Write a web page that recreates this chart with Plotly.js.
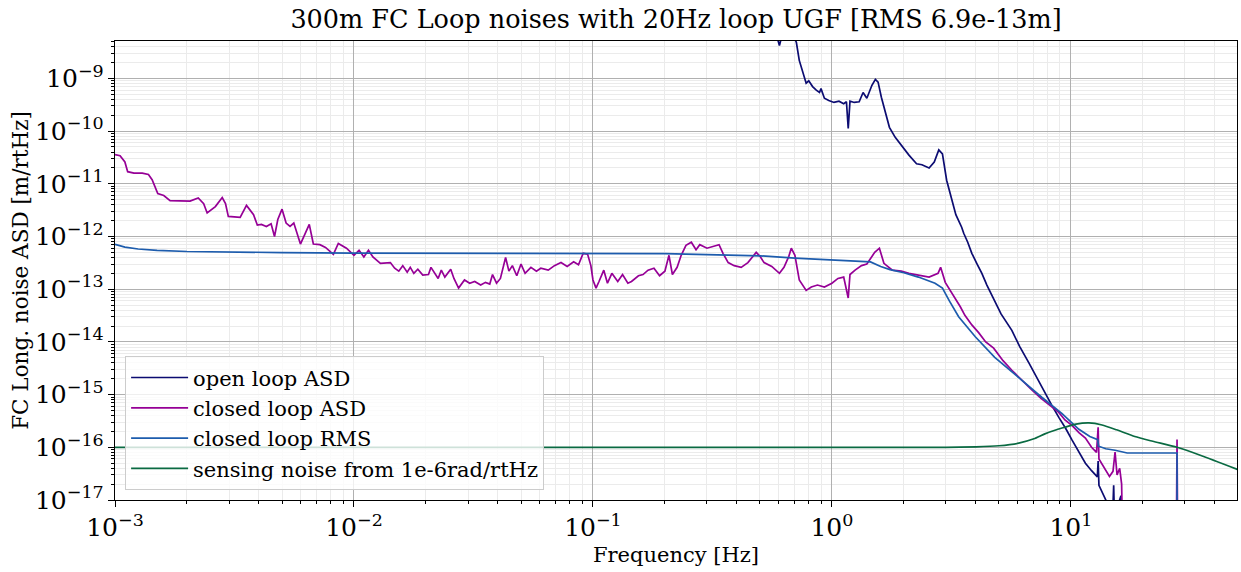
<!DOCTYPE html>
<html>
<head>
<meta charset="utf-8">
<script src="https://cdn.plot.ly/plotly-3.0.1.min.js"></script>
<style>html,body{margin:0;padding:0;background:#fff;}#chart{width:1241px;height:572px;}</style>
</head>
<body>
<div id="chart"></div>
<script>
// ---- data ----
const titleText = "300m FC Loop noises with 20Hz loop UGF [RMS 6.9e-13m]";
const seriesNames = ["open loop ASD", "closed loop ASD", "closed loop RMS", "sensing noise from 1e-6rad/rtHz"];

const openFreq = [0.5,0.59,0.603,0.615,0.68,0.71,0.73,0.76,0.78,0.8,0.83,0.86,0.887,0.9,0.93,0.97,1.02,1.07,1.12,1.15,1.17,1.19,1.24,1.3,1.35,1.4,1.47,1.52,1.56,1.61,1.68,1.74,1.84,1.95,2.1,2.26,2.38,2.55,2.68,2.8,2.9,3.02,3.17,3.3,3.49,3.56,3.7,3.85,4.05,4.24,4.45,4.75,5.1,5.66,6.1,6.67,7.2,7.78,8.3,8.9,9.5,10.1,10.8,11.5,12.2,12.9,13.0,13.1,14.0,14.5,15.0,15.1,15.2,16.2,16.4];
const openASD  = [1.2e-8,6e-9,4.2e-9,6e-9,8e-9,4.8e-9,2.2e-9,1.25e-9,8.1e-10,9e-10,7e-10,6e-10,5.4e-10,6.4e-10,4.2e-10,3.8e-10,3.5e-10,3.7e-10,3.3e-10,3.6e-10,1.12e-10,3.7e-10,3.5e-10,3.6e-10,5.4e-10,4.2e-10,7.4e-10,9.6e-10,8.5e-10,4.4e-10,2.2e-10,1.18e-10,7.6e-11,5.4e-11,3.5e-11,2.4e-11,2.3e-11,2.0e-11,2.6e-11,4.4e-11,3.7e-11,1.17e-11,4.9e-12,2.6e-12,1.5e-12,1.15e-12,7.8e-13,4.8e-13,3.0e-13,2.0e-13,1.2e-13,6.5e-14,3.4e-14,1.66e-14,8.2e-15,4.0e-15,2.1e-15,1.07e-15,6.4e-16,3.7e-16,2.3e-16,1.38e-16,8.4e-17,5.0e-17,3.6e-17,2.75e-17,5.5e-17,1.9e-17,1.0e-17,5e-18,8e-18,1.9e-17,5e-18,1.2e-17,1e-18];

const closedFreq = [0.001,0.00105,0.0011,0.00113,0.0012,0.0013,0.00138,0.00143,0.00151,0.0016,0.0017,0.0019,0.00206,0.00223,0.00235,0.00243,0.00263,0.00281,0.0029,0.00298,0.0032,0.00334,0.00355,0.0038,0.00394,0.0041,0.0043,0.0045,0.00465,0.0048,0.005,0.0052,0.0054,0.0056,0.00597,0.0063,0.0065,0.00676,0.0072,0.0076,0.0082,0.0086,0.0093,0.01,0.0105,0.011,0.0115,0.012,0.0129,0.0142,0.0148,0.0154,0.016,0.0167,0.0172,0.0178,0.0185,0.0194,0.0205,0.021,0.0225,0.0232,0.024,0.0254,0.0262,0.0274,0.029,0.0305,0.032,0.0339,0.0355,0.037,0.038,0.0395,0.041,0.0431,0.0445,0.046,0.048,0.05,0.052,0.055,0.058,0.0605,0.065,0.069,0.0735,0.078,0.083,0.087,0.091,0.095,0.098,0.1,0.103,0.106,0.111,0.115,0.12,0.127,0.133,0.14,0.145,0.155,0.162,0.17,0.18,0.19,0.2,0.208,0.215,0.225,0.234,0.245,0.258,0.27,0.28,0.3,0.32,0.337,0.35,0.368,0.39,0.417,0.445,0.482,0.5,0.52,0.56,0.603,0.63,0.66,0.676,0.7,0.73,0.78,0.82,0.87,0.93,1.0,1.06,1.12,1.17,1.19,1.25,1.33,1.4,1.51,1.58,1.65,1.79,1.95,2.1,2.32,2.55,2.78,2.85,2.98,3.17,3.45,3.6,3.85,4.11,4.4,4.75,5.2,5.66,6.2,6.86,7.5,8.32,8.9,9.44,10.1,10.8,11.5,12.2,12.8,13.0,13.1,14.5,15.0,15.3,15.6,16.0,16.3,16.5,27.6,27.8,28.0];
const closedASD  = [3.6e-11,3.4e-11,2.6e-11,1.7e-11,1.6e-11,1.6e-11,1.5e-11,1.2e-11,6.5e-12,6.0e-12,4.8e-12,4.7e-12,4.7e-12,5.4e-12,4.2e-12,2.8e-12,3.7e-12,5.5e-12,4.2e-12,2.4e-12,2.3e-12,2.3e-12,3.9e-12,2.6e-12,1.65e-12,1.7e-12,1.55e-12,1.75e-12,1.0e-12,2.1e-12,3.3e-12,1.8e-12,1.55e-12,1.8e-12,7.2e-13,1.2e-12,1.7e-12,7.2e-13,7.0e-13,6.2e-13,4.6e-13,7.4e-13,6.0e-13,4.4e-13,5.5e-13,4.1e-13,5.5e-13,4.1e-13,3.1e-13,3.2e-13,2.5e-13,2.2e-13,2.8e-13,2.1e-13,2.6e-13,2.0e-13,2.4e-13,1.85e-13,1.9e-13,2.6e-13,1.6e-13,2.3e-13,1.7e-13,2.4e-13,1.6e-13,1.05e-13,1.5e-13,1.3e-13,1.4e-13,1.2e-13,1.35e-13,1.25e-13,1.9e-13,1.3e-13,1.6e-13,4.0e-13,2.2e-13,2.8e-13,1.8e-13,3.0e-13,2.0e-13,2.6e-13,2.2e-13,2.5e-13,2.3e-13,2.8e-13,3.2e-13,2.7e-13,3.3e-13,2.9e-13,4.8e-13,4.6e-13,2.8e-13,1.5e-13,1.05e-13,1.4e-13,2.3e-13,1.3e-13,2.0e-13,1.4e-13,1.9e-13,1.3e-13,1.4e-13,1.8e-13,1.9e-13,2.3e-13,2.5e-13,1.8e-13,2.2e-13,4.4e-13,1.9e-13,2.6e-13,4.4e-13,6.8e-13,7.8e-13,5.6e-13,7.0e-13,6.0e-13,6.5e-13,7.0e-13,4.8e-13,3.2e-13,2.8e-13,2.6e-13,3.2e-13,5.0e-13,4.2e-13,3.2e-13,2.7e-13,2.0e-13,2.6e-13,4.2e-13,6.0e-13,4.4e-13,1.5e-13,9.5e-14,1.1e-13,1.2e-13,1.1e-13,1.3e-13,1.6e-13,1.7e-13,6.8e-14,1.9e-13,2.3e-13,2.8e-13,3.0e-13,5.0e-13,6.0e-13,3.1e-13,2.3e-13,2.2e-13,2.0e-13,1.85e-13,1.7e-13,2.0e-13,2.6e-13,1.35e-13,8.7e-14,4.6e-14,3.2e-14,2.1e-14,1.5e-14,1.0e-14,7.6e-15,4.4e-15,2.9e-15,1.9e-15,1.23e-15,8.5e-16,5.8e-16,4.6e-16,3.3e-16,2.6e-16,1.9e-16,1.5e-16,1.0e-16,8e-17,2.4e-16,6e-17,2.8e-17,3.5e-17,8.1e-17,3.0e-17,4.0e-17,2.0e-17,1e-18,1e-18,1.4e-16,1e-18];

const rmsFreq = [0.001,0.0011,0.00125,0.0015,0.002,0.003,0.005,0.01,0.03,0.1,0.2,0.3,0.5,0.7,1.0,1.3,1.45,1.6,1.75,2.0,2.3,2.7,2.9,3.1,3.39,3.98,4.8,6.05,7.55,9.16,10.8,12.0,12.95,13.05,14.0,15.3,17.2,27.8,27.85];
const rmsVal  = [7.1e-13,6.3e-13,5.8e-13,5.45e-13,5.2e-13,5.05e-13,4.95e-13,4.85e-13,4.82e-13,4.8e-13,4.72e-13,4.55e-13,4.3e-13,3.9e-13,3.65e-13,3.45e-13,3.3e-13,2.7e-13,2.35e-13,2.05e-13,1.7e-13,1.3e-13,1.05e-13,6.0e-14,3.0e-14,1.25e-14,5.1e-15,2.1e-15,8.9e-16,4.4e-16,2.2e-16,1.6e-16,1.4e-16,1.05e-16,9.4e-17,8.8e-17,7.8e-17,7.8e-17,1e-18];

const senseFreq = [0.001,0.1,1,3,4,5,6.05,7,7.78,8.7,9.44,10.5,11.9,13.5,15.5,18.5,22,27.8,35,50.6];
const senseVal  = [1e-16,1e-16,1e-16,1.0e-16,1.02e-16,1.07e-16,1.2e-16,1.45e-16,1.8e-16,2.15e-16,2.4e-16,2.75e-16,2.9e-16,2.65e-16,2.15e-16,1.6e-16,1.3e-16,1.0e-16,7.0e-17,3.7e-17];

const xTickAlias = {"1": "10<sup>0</sup>", "10": "10<sup>1</sup>"};

const colors = ["#0c0c72", "#960096", "#1d5cad", "#0a6a42"];
const FONT = "DejaVu Serif, serif";

const traces = [
  {x: openFreq, y: openASD, name: seriesNames[0], line: {color: colors[0], width: 1.7}},
  {x: closedFreq, y: closedASD, name: seriesNames[1], line: {color: colors[1], width: 1.7}},
  {x: rmsFreq, y: rmsVal, name: seriesNames[2], line: {color: colors[2], width: 1.7}},
  {x: senseFreq, y: senseVal, name: seriesNames[3], line: {color: colors[3], width: 1.7, shape: 'spline', smoothing: 0.6}}
].map(t => Object.assign({type: 'scatter', mode: 'lines', hoverinfo: 'skip'}, t));

const axisCommon = {
  type: 'log',
  showline: true, linecolor: 'black', linewidth: 1.3, mirror: true,
  ticks: 'outside', ticklen: 6, tickwidth: 1, tickcolor: 'black',
  showgrid: true, gridcolor: '#b0b0b0', gridwidth: 1,
  zeroline: false,
  dtick: 1, exponentformat: 'power',
  tickfont: {family: FONT, size: 20, color: 'black'},
  minor: {dtick: 'D1', ticks: 'outside', ticklen: 3, tickcolor: 'black', showgrid: true, gridcolor: '#ebebeb', gridwidth: 1}
};

const layout = {
  width: 1241, height: 572,
  margin: {l: 115, r: 4, t: 41, b: 72, pad: 0},
  paper_bgcolor: 'white', plot_bgcolor: 'white',
  font: {family: FONT, color: 'black'},
  title: {text: titleText, font: {family: FONT, size: 25.5, color: 'black'}, x: 0.5, xanchor: 'center', y: 0.966, yanchor: 'middle', xref: 'paper', yref: 'container'},
  xaxis: Object.assign({}, axisCommon, {
    range: [-3, 1.695],
    labelalias: xTickAlias,
    title: {text: 'Frequency [Hz]', font: {family: FONT, size: 21}, standoff: 6}
  }),
  yaxis: Object.assign({}, axisCommon, {
    range: [-17, -8.29],
    title: {text: 'FC Long. noise ASD [m/rtHz]', font: {family: FONT, size: 21.5}, standoff: 0}
  }),
  legend: {
    x: 0.009, y: 0.313, xanchor: 'left', yanchor: 'top',
    bgcolor: 'rgba(255,255,255,0.8)', bordercolor: '#cccccc', borderwidth: 1,
    font: {family: FONT, size: 21, color: 'black'},
    itemwidth: 57,
    tracegroupgap: 0
  },
  showlegend: true
};

Plotly.newPlot('chart', traces, layout, {staticPlot: true, displayModeBar: false});
</script>
</body>
</html>
